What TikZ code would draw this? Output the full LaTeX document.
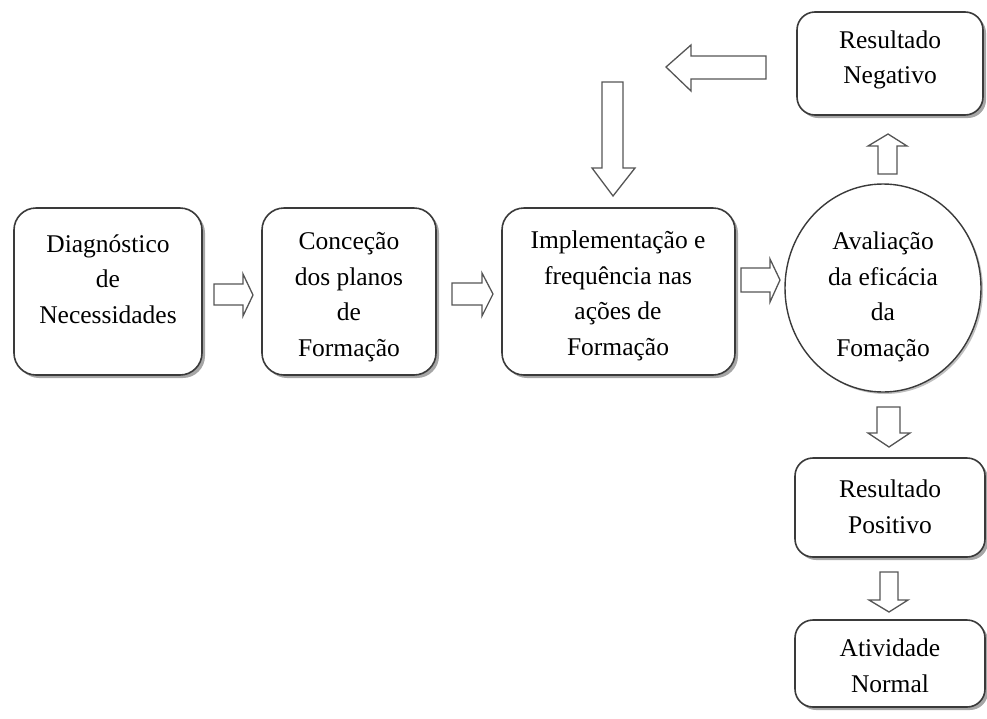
\documentclass[tikz,border=0pt]{standalone}
\usepackage{fontspec}
\setmainfont{Liberation Serif}
\usetikzlibrary{shadows,shapes.geometric}
\definecolor{edge}{HTML}{3A3A3A}
\definecolor{arrowc}{HTML}{555555}
\tikzset{
  box/.style={draw=edge, line width=1.6pt, rounded corners=22pt, fill=white,
    drop shadow={shadow xshift=3pt, shadow yshift=-3pt, fill=black, opacity=0.35}},
  smallbox/.style={box, rounded corners=18pt},
  lbl/.style={align=center, inner sep=0pt, font=\fontsize{25.5}{35.5}\selectfont},
  blockarrow/.style={draw=arrowc, line width=1.3pt, fill=white, line join=miter}
}
\begin{document}
\begin{tikzpicture}[x=1pt,y=-1pt]
\useasboundingbox (0,0) rectangle (987,718);
% boxes
\path[box] (14,208) rectangle (202,375);
\coordinate (b1) at (108,279);
\path[box] (262,208) rectangle (436,375);
\coordinate (b2) at (349,297);
\path[box] (502,208) rectangle (735,375);
\coordinate (b3) at (618,296);
\path[draw=edge, line width=1.4pt, fill=white,
  drop shadow={shadow xshift=2pt, shadow yshift=-2pt, fill=black, opacity=0.25}]
  (883,288) ellipse [x radius=98, y radius=104];
\coordinate (c4) at (883,297);
\path[smallbox] (797,12) rectangle (983,115);
\coordinate (neg) at (890,60);
\path[smallbox] (795,458) rectangle (985,557);
\coordinate (pos) at (890,507);
\path[smallbox] (795,620) rectangle (985,707);
\coordinate (nor) at (890,666);
% labels
\node[lbl] (t1) at (b1) {Diagnóstico\\de\\Necessidades};
\node[lbl] (t2) at (b2) {Conceção\\dos planos\\de\\Formação};
\node[lbl] (t3) at (b3) {Implementação e\\frequência nas\\ações de\\Formação};
\node[lbl] (t4) at (c4) {Avaliação\\da eficácia\\da\\Fomação};
\node[lbl] (t5) at (neg) {Resultado\\Negativo};
\node[lbl] (t6) at (pos) {Resultado\\Positivo};
\node[lbl] (t7) at (nor) {Atividade\\Normal};
% block arrows
\draw[blockarrow] (214,284)--(243,284)--(243,274)--(253,295)--(243,316)--(243,305)--(214,305)--cycle;
\draw[blockarrow] (452,283)--(482,283)--(482,273)--(493,294)--(482,316)--(482,305)--(452,305)--cycle;
\draw[blockarrow] (741,268)--(770,268)--(770,259)--(780,280)--(770,302)--(770,292)--(741,292)--cycle;
\draw[blockarrow] (878,174)--(878,146)--(868,146)--(888,134)--(907,146)--(897,146)--(897,174)--cycle;
\draw[blockarrow] (766,56)--(691,56)--(691,45)--(666,67)--(691,91)--(691,79)--(766,79)--cycle;
\draw[blockarrow] (602,82)--(623,82)--(623,168)--(635,168)--(613,196)--(592,168)--(602,168)--cycle;
\draw[blockarrow] (877,407)--(900,407)--(900,433)--(910,433)--(889,447)--(868,433)--(877,433)--cycle;
\draw[blockarrow] (880,572)--(898,572)--(898,600)--(908,600)--(889,612)--(869,600)--(880,600)--cycle;
\end{tikzpicture}
\end{document}
